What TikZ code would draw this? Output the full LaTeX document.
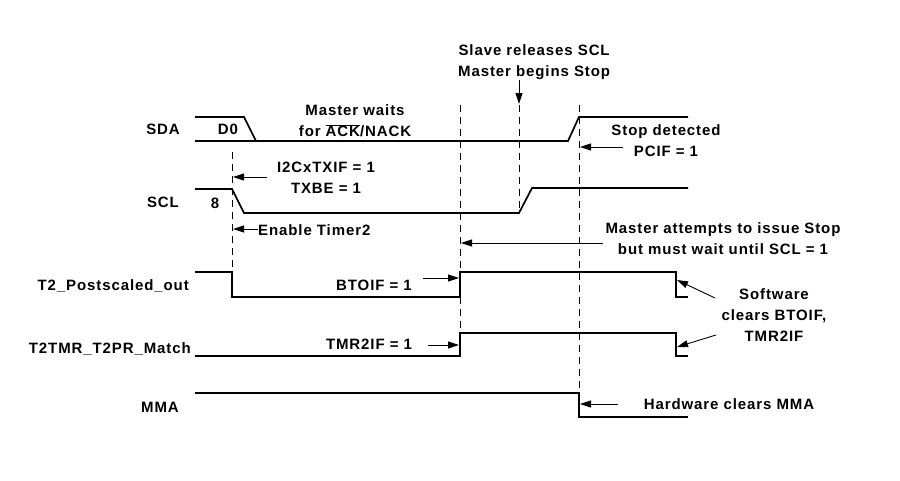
\documentclass[tikz,border=0pt]{standalone}
\usepackage{fontspec}
\setmainfont{Liberation Sans}[LetterSpace=6]
\usetikzlibrary{arrows.meta}
\begin{document}
\begin{tikzpicture}[x=1pt,y=-1pt,
  sig/.style={line width=1.7pt, line join=miter},
  guide/.style={line width=0.9pt, dash pattern=on 7pt off 5pt},
  lbl/.style={font=\bfseries\fontsize{15}{21}\selectfont, inner sep=0pt, align=center},
  arr/.style={line width=0.9pt, -{Triangle[length=11pt,width=7pt]}}]
\useasboundingbox (0,0) rectangle (900,480);

% signals
\draw[sig] (195,117) -- (244,117) -- (256,141);
\draw[sig] (195,141) -- (568,141) -- (579,117) -- (688,117);
\draw[sig] (195,189) -- (232,189) -- (244,213) -- (519,213) -- (532,188) -- (688,188);
\draw[sig] (195,272) -- (232,272) -- (232,297) -- (460,297) -- (460,272) -- (676,272) -- (676,297) -- (688,297);
\draw[sig] (195,356) -- (460,356) -- (460,333) -- (676,333) -- (676,356) -- (688,356);
\draw[sig] (195,393) -- (579,393) -- (579,417) -- (688,417);

% dashed guides
\draw[guide] (232,152) -- (232,272);
\draw[guide] (460,105) -- (460,333);
\draw[guide] (519,105) -- (519,213);
\draw[guide] (579,105) -- (579,393);

% signal names
\node[lbl] (sda) at (163,129) {SDA};
\node[lbl] (scl) at (163,202) {SCL};
\node[lbl, anchor=east] (t2p) at (189,286) {T2\_Postscaled\_out};
\node[lbl, anchor=east] (t2m) at (191,349) {T2TMR\_T2PR\_Match};
\node[lbl] (mma) at (160,407) {MMA};

\node[lbl] (d0) at (228,129) {D0};
\node[lbl] (eight) at (215,203) {8};

% annotations
\node[lbl] (wait) at (355,121) {Master waits\\for $\overline{\hbox{ACK}}$/NACK};
\node[lbl] (txif) at (326,178) {I2CxTXIF = 1\\TXBE = 1};
\node[lbl, anchor=west] (tmr) at (258,230) {Enable Timer2};
\node[lbl] (btoif) at (374,285) {BTOIF = 1};
\node[lbl] (tmr2if) at (369,344) {TMR2IF = 1};
\node[lbl, anchor=west] (slave) at (458,62) {Slave releases SCL\\Master begins Stop};
\node[lbl] (stop) at (666,141) {Stop detected\\PCIF = 1};
\node[lbl] (attempt) at (723,239) {Master attempts to issue Stop\\but must wait until SCL = 1};
\node[lbl] (soft) at (774,315) {Software\\clears BTOIF,\\TMR2IF};
\node[lbl] (hw) at (729,404) {Hardware clears MMA};

% target coordinates
\coordinate (a1s) at (267,177); \coordinate (a1e) at (233,177);
\coordinate (a2s) at (258,229); \coordinate (a2e) at (233,229);
\coordinate (a3s) at (423,278); \coordinate (a3e) at (459,278);
\coordinate (a4s) at (428,345); \coordinate (a4e) at (459,345);
\coordinate (a5s) at (519,80);  \coordinate (a5e) at (519,104);
\coordinate (a6s) at (623,147); \coordinate (a6e) at (580,147);
\coordinate (a7s) at (603,243); \coordinate (a7e) at (461,243);
\coordinate (a8s) at (715,298); \coordinate (a8e) at (677,280);
\coordinate (a9s) at (716,335); \coordinate (a9e) at (677,347);
\coordinate (a10s) at (618,404); \coordinate (a10e) at (580,404);

\draw[arr] (a1s) -- (a1e);
\draw[arr] (a2s) -- (a2e);
\draw[arr] (a3s) -- (a3e);
\draw[arr] (a4s) -- (a4e);
\draw[arr] (a5s) -- (a5e);
\draw[arr] (a6s) -- (a6e);
\draw[arr] (a7s) -- (a7e);
\draw[arr] (a8s) -- (a8e);
\draw[arr] (a9s) -- (a9e);
\draw[arr] (a10s) -- (a10e);
\end{tikzpicture}
\end{document}
